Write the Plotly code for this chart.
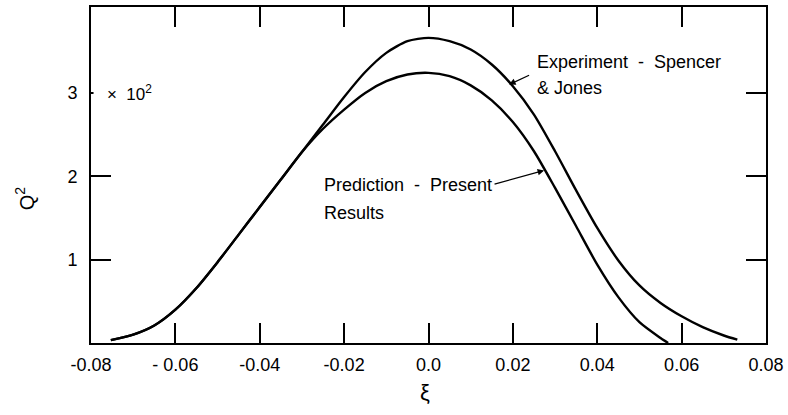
import plotly.graph_objects as go

# ---- data ----
exp_xi = [-0.0753, -0.070, -0.065, -0.060, -0.055, -0.050, -0.045, -0.040, -0.035, -0.030,
          -0.025, -0.020, -0.015, -0.010, -0.005, 0.0, 0.005, 0.010, 0.015, 0.020,
          0.025, 0.030, 0.035, 0.040, 0.045, 0.050, 0.055, 0.060, 0.065, 0.070, 0.0732]
exp_q = [0.034, 0.10, 0.21, 0.40, 0.66, 0.97, 1.30, 1.63, 1.96, 2.29,
         2.62, 2.95, 3.25, 3.48, 3.62, 3.66, 3.62, 3.52, 3.34, 3.08,
         2.74, 2.30, 1.83, 1.38, 0.99, 0.69, 0.48, 0.32, 0.19, 0.09, 0.04]

pred_xi = [-0.0753, -0.070, -0.065, -0.060, -0.055, -0.050, -0.045, -0.040, -0.035, -0.030,
           -0.025, -0.020, -0.015, -0.010, -0.005, 0.0, 0.005, 0.010, 0.015, 0.020,
           0.025, 0.030, 0.035, 0.040, 0.045, 0.050, 0.055, 0.0568]
pred_q = [0.034, 0.10, 0.21, 0.40, 0.66, 0.97, 1.30, 1.63, 1.96, 2.29,
          2.57, 2.80, 3.00, 3.14, 3.22, 3.24, 3.20, 3.09, 2.91, 2.65,
          2.30, 1.86, 1.40, 0.94, 0.55, 0.25, 0.06, 0.0]

x_tickvals = [-0.08, -0.06, -0.04, -0.02, 0.0, 0.02, 0.04, 0.06, 0.08]
x_ticktext = ["-0.08", "- 0.06", "-0.04", "-0.02", "0.0", "0.02", "0.04", "0.06", "0.08"]
y_tickvals = [1, 2, 3]
y_ticktext = ["1", "2", "3"]

FONT = "Liberation Sans, Arial, sans-serif"

fig = go.Figure()
fig.add_trace(go.Scatter(x=exp_xi, y=exp_q, mode="lines",
                         line=dict(color="black", width=2.4, shape="spline", smoothing=0.7),
                         showlegend=False, hoverinfo="skip"))
fig.add_trace(go.Scatter(x=pred_xi, y=pred_q, mode="lines",
                         line=dict(color="black", width=2.4, shape="spline", smoothing=0.7),
                         showlegend=False, hoverinfo="skip"))

annotations = [
    dict(x=-0.0768, y=3.0, xref="x", yref="y", text="×  10<sup>2</sup>", showarrow=False,
         xanchor="left", yanchor="middle", font=dict(size=17)),
    dict(x=0.0252, y=3.37, xref="x", yref="y", text="Experiment  -  Spencer", showarrow=False,
         xanchor="left", yanchor="middle"),
    dict(x=0.0252, y=3.06, xref="x", yref="y", text="& Jones", showarrow=False,
         xanchor="left", yanchor="middle"),
    dict(x=0.0191, y=3.10, ax=0.0242, ay=3.22, xref="x", yref="y", axref="x", ayref="y",
         text="", showarrow=True, arrowhead=2, arrowsize=1, arrowwidth=1.3, arrowcolor="black"),
    dict(x=-0.0253, y=1.90, xref="x", yref="y", text="Prediction  -  Present", showarrow=False,
         xanchor="left", yanchor="middle"),
    dict(x=-0.0253, y=1.56, xref="x", yref="y", text="Results", showarrow=False,
         xanchor="left", yanchor="middle"),
    dict(x=0.0274, y=2.07, ax=0.0153, ay=1.90, xref="x", yref="y", axref="x", ayref="y",
         text="", showarrow=True, arrowhead=2, arrowsize=1, arrowwidth=1.3, arrowcolor="black"),
    dict(x=-0.098, y=0.43, xref="paper", yref="paper", text="Q<sup>2</sup>", showarrow=False,
         textangle=-90, xanchor="center", yanchor="middle", font=dict(size=20)),
    dict(x=0.495, y=-0.147, xref="paper", yref="paper", text="ξ", showarrow=False,
         xanchor="center", yanchor="middle", font=dict(size=22)),
]
for a in annotations:
    if "font" not in a:
        a["font"] = dict(size=18)
    a["font"]["family"] = FONT
    a["font"]["color"] = "black"

fig.update_layout(
    width=788, height=415,
    margin=dict(l=91, r=22, t=7, b=72, autoexpand=False),
    paper_bgcolor="white", plot_bgcolor="white",
    font=dict(family=FONT, size=18, color="black"),
    annotations=annotations,
    shapes=[dict(type="rect", xref="x", yref="y", x0=-0.0794, x1=-0.0748, y0=2.96, y1=3.04,
                 fillcolor="white", line=dict(width=0), layer="above")],
)
fig.update_xaxes(range=[-0.08, 0.08], tickvals=x_tickvals, ticktext=x_ticktext,
                 ticks="inside", ticklen=20, tickwidth=1.6, tickcolor="black",
                 showline=True, linewidth=2, linecolor="black", mirror="ticks",
                 showgrid=False, zeroline=False, ticklabelstandoff=4, automargin=False,
                 tickfont=dict(size=18, family=FONT, color="black"))
fig.update_yaxes(range=[0, 4.03], tickvals=y_tickvals, ticktext=y_ticktext,
                 ticks="inside", ticklen=20, tickwidth=1.6, tickcolor="black",
                 showline=True, linewidth=2, linecolor="black", mirror="ticks",
                 showgrid=False, zeroline=False, ticklabelstandoff=8, automargin=False,
                 tickfont=dict(size=18, family=FONT, color="black"))

fig.write_html("out.html", config={"displayModeBar": False},
               post_script="document.body.style.margin='0';document.body.style.overflow='hidden';")
